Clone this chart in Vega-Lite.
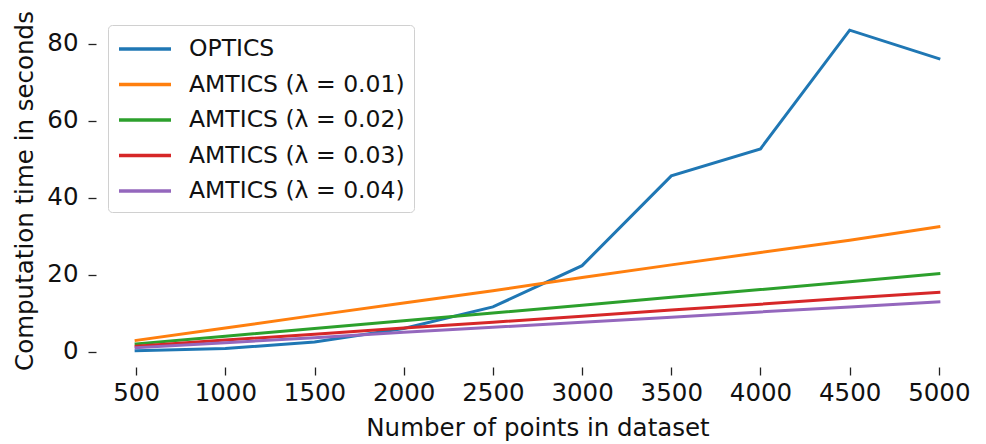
{
  "$schema": "https://vega.github.io/schema/vega-lite/v6.json",
  "width": 883,
  "height": 353,
  "autosize": {"type": "none"},
  "padding": {"left": 96, "top": 14, "right": 7, "bottom": 77},
  "background": "white",
  "config": {
    "view": {"stroke": null},
    "font": "DejaVu Sans",
    "axis": {"grid": false, "domain": false, "tickColor": "#222", "tickWidth": 1.3, "tickSize": 8, "labelFont": "DejaVu Sans", "labelFontSize": 24.5, "labelColor": "#111", "titleFont": "DejaVu Sans", "titleFontSize": 24.5, "titleFontWeight": "normal", "titleColor": "#111"},
    "legend": {"labelFont": "DejaVu Sans", "labelFontSize": 23.5, "labelColor": "#111", "labelLimit": 400}
  },
  "data": {
    "values": [
      {"n": 500, "method": "OPTICS", "t": 0.3},
      {"n": 1000, "method": "OPTICS", "t": 0.9},
      {"n": 1500, "method": "OPTICS", "t": 2.6},
      {"n": 2000, "method": "OPTICS", "t": 6.1},
      {"n": 2500, "method": "OPTICS", "t": 11.7},
      {"n": 3000, "method": "OPTICS", "t": 22.4},
      {"n": 3500, "method": "OPTICS", "t": 45.7},
      {"n": 4000, "method": "OPTICS", "t": 52.7},
      {"n": 4500, "method": "OPTICS", "t": 83.5},
      {"n": 5000, "method": "OPTICS", "t": 76.1},
      {"n": 500, "method": "AMTICS (λ = 0.01)", "t": 3.0},
      {"n": 1000, "method": "AMTICS (λ = 0.01)", "t": 6.2},
      {"n": 1500, "method": "AMTICS (λ = 0.01)", "t": 9.5},
      {"n": 2000, "method": "AMTICS (λ = 0.01)", "t": 12.7},
      {"n": 2500, "method": "AMTICS (λ = 0.01)", "t": 15.9},
      {"n": 3000, "method": "AMTICS (λ = 0.01)", "t": 19.3},
      {"n": 3500, "method": "AMTICS (λ = 0.01)", "t": 22.6},
      {"n": 4000, "method": "AMTICS (λ = 0.01)", "t": 25.8},
      {"n": 4500, "method": "AMTICS (λ = 0.01)", "t": 29.0},
      {"n": 5000, "method": "AMTICS (λ = 0.01)", "t": 32.5},
      {"n": 500, "method": "AMTICS (λ = 0.02)", "t": 2.1},
      {"n": 1000, "method": "AMTICS (λ = 0.02)", "t": 4.1},
      {"n": 1500, "method": "AMTICS (λ = 0.02)", "t": 6.1},
      {"n": 2000, "method": "AMTICS (λ = 0.02)", "t": 8.1},
      {"n": 2500, "method": "AMTICS (λ = 0.02)", "t": 10.1},
      {"n": 3000, "method": "AMTICS (λ = 0.02)", "t": 12.1},
      {"n": 3500, "method": "AMTICS (λ = 0.02)", "t": 14.2},
      {"n": 4000, "method": "AMTICS (λ = 0.02)", "t": 16.2},
      {"n": 4500, "method": "AMTICS (λ = 0.02)", "t": 18.2},
      {"n": 5000, "method": "AMTICS (λ = 0.02)", "t": 20.3},
      {"n": 500, "method": "AMTICS (λ = 0.03)", "t": 1.5},
      {"n": 1000, "method": "AMTICS (λ = 0.03)", "t": 3.1},
      {"n": 1500, "method": "AMTICS (λ = 0.03)", "t": 4.6},
      {"n": 2000, "method": "AMTICS (λ = 0.03)", "t": 6.2},
      {"n": 2500, "method": "AMTICS (λ = 0.03)", "t": 7.7},
      {"n": 3000, "method": "AMTICS (λ = 0.03)", "t": 9.3},
      {"n": 3500, "method": "AMTICS (λ = 0.03)", "t": 10.9},
      {"n": 4000, "method": "AMTICS (λ = 0.03)", "t": 12.4},
      {"n": 4500, "method": "AMTICS (λ = 0.03)", "t": 14.0},
      {"n": 5000, "method": "AMTICS (λ = 0.03)", "t": 15.5},
      {"n": 500, "method": "AMTICS (λ = 0.04)", "t": 1.1},
      {"n": 1000, "method": "AMTICS (λ = 0.04)", "t": 2.4},
      {"n": 1500, "method": "AMTICS (λ = 0.04)", "t": 3.7},
      {"n": 2000, "method": "AMTICS (λ = 0.04)", "t": 5.1},
      {"n": 2500, "method": "AMTICS (λ = 0.04)", "t": 6.4},
      {"n": 3000, "method": "AMTICS (λ = 0.04)", "t": 7.7},
      {"n": 3500, "method": "AMTICS (λ = 0.04)", "t": 9.0},
      {"n": 4000, "method": "AMTICS (λ = 0.04)", "t": 10.4},
      {"n": 4500, "method": "AMTICS (λ = 0.04)", "t": 11.7},
      {"n": 5000, "method": "AMTICS (λ = 0.04)", "t": 13.0}
    ]
  },
  "mark": {"type": "line", "strokeWidth": 3, "strokeCap": "square"},
  "encoding": {
    "x": {
      "field": "n", "type": "quantitative",
      "scale": {"domain": [275, 5225], "nice": false, "zero": false},
      "axis": {"values": [500, 1000, 1500, 2000, 2500, 3000, 3500, 4000, 4500, 5000], "format": "d", "title": "Number of points in dataset", "labelPadding": 6, "titlePadding": 12, "labelFlush": false}
    },
    "y": {
      "field": "t", "type": "quantitative",
      "scale": {"domain": [-3.9, 87.7], "nice": false, "zero": false},
      "axis": {"values": [0, 20, 40, 60, 80], "format": "d", "title": "Computation time in seconds", "labelPadding": 10, "titlePadding": 9, "labelFlush": false}
    },
    "color": {
      "field": "method", "type": "nominal",
      "sort": ["OPTICS", "AMTICS (λ = 0.01)", "AMTICS (λ = 0.02)", "AMTICS (λ = 0.03)", "AMTICS (λ = 0.04)"],
      "scale": {
        "domain": ["OPTICS", "AMTICS (λ = 0.01)", "AMTICS (λ = 0.02)", "AMTICS (λ = 0.03)", "AMTICS (λ = 0.04)"],
        "range": ["#1f77b4", "#ff7f0e", "#2ca02c", "#d62728", "#9467bd"]
      },
      "legend": {
        "title": null,
        "orient": "none",
        "legendX": 12,
        "legendY": 11,
        "symbolType": "M-1,0H3",
        "symbolSize": 676,
        "symbolStrokeWidth": 3.5,
        "labelOffset": 42,
        "rowPadding": 8.5,
        "padding": 9,
        "strokeColor": "#d0d0d0",
        "fillColor": "white",
        "cornerRadius": 4
      }
    }
  }
}
